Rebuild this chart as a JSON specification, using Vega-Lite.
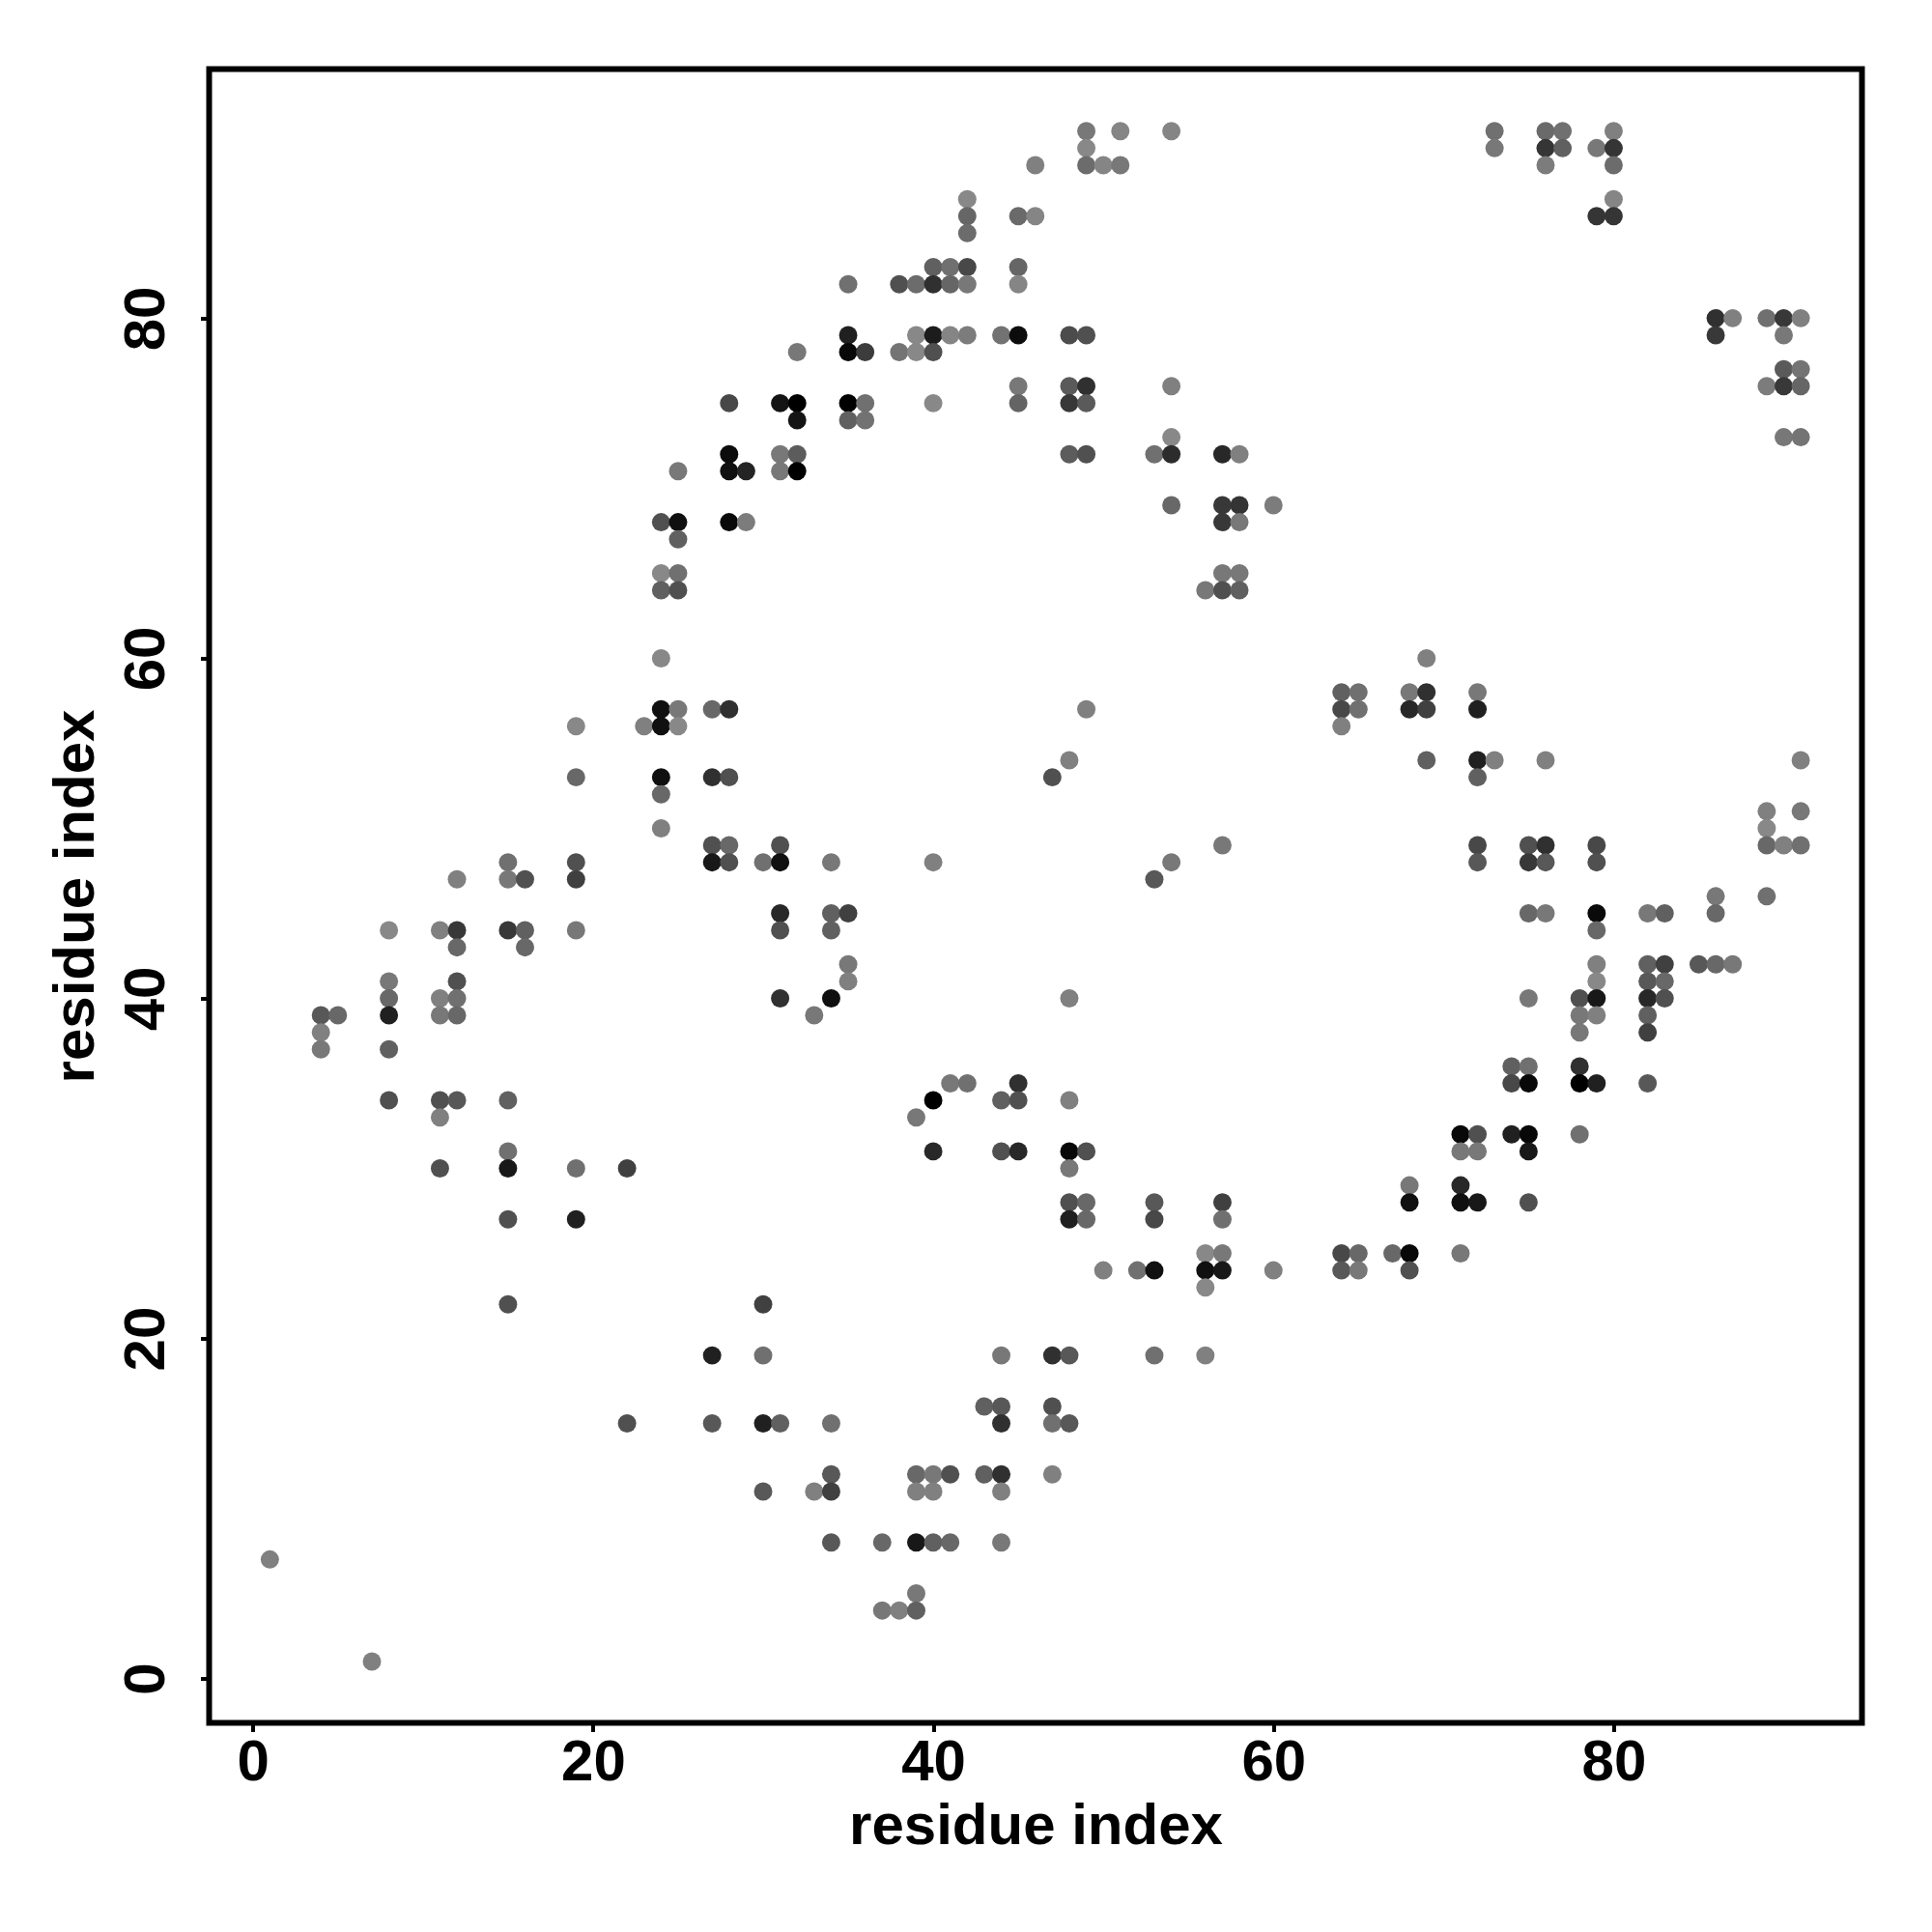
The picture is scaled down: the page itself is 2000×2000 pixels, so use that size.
{"$schema":"https://vega.github.io/schema/vega-lite/v6.json","autosize":{"type":"none"},"padding":{"left":216.5,"top":71.5,"right":72,"bottom":216},"width":1711,"height":1712,"background":"white","config":{"view":{"stroke":"black","strokeWidth":6,"fill":null}},
"data":{"values":[
{"x":49,"y":91,"g":120},{"x":51,"y":91,"g":133},{"x":54,"y":91,"g":133},{"x":73,"y":91,"g":112},{"x":76,"y":91,"g":106},{"x":77,"y":91,"g":112},{"x":80,"y":91,"g":128},
{"x":49,"y":90,"g":136},{"x":73,"y":90,"g":120},{"x":76,"y":90,"g":53},{"x":77,"y":90,"g":96},{"x":79,"y":90,"g":120},{"x":80,"y":90,"g":53},
{"x":46,"y":89,"g":128},{"x":49,"y":89,"g":108},{"x":50,"y":89,"g":133},{"x":51,"y":89,"g":120},{"x":76,"y":89,"g":124},{"x":80,"y":89,"g":108},
{"x":42,"y":87,"g":136},{"x":80,"y":87,"g":133},
{"x":42,"y":86,"g":102},{"x":45,"y":86,"g":106},{"x":46,"y":86,"g":133},{"x":79,"y":86,"g":53},{"x":80,"y":86,"g":53},
{"x":42,"y":85,"g":108},
{"x":40,"y":83,"g":96},{"x":41,"y":83,"g":112},{"x":42,"y":83,"g":72},{"x":45,"y":83,"g":102},
{"x":35,"y":82,"g":112},{"x":38,"y":82,"g":80},{"x":39,"y":82,"g":108},{"x":40,"y":82,"g":48},{"x":41,"y":82,"g":102},{"x":42,"y":82,"g":120},{"x":45,"y":82,"g":133},
{"x":86,"y":80,"g":48},{"x":87,"y":80,"g":128},{"x":89,"y":80,"g":112},{"x":90,"y":80,"g":56},{"x":91,"y":80,"g":128},
{"x":35,"y":79,"g":32},{"x":39,"y":79,"g":136},{"x":40,"y":79,"g":28},{"x":41,"y":79,"g":133},{"x":42,"y":79,"g":124},{"x":44,"y":79,"g":114},{"x":45,"y":79,"g":12},{"x":48,"y":79,"g":76},{"x":49,"y":79,"g":80},{"x":86,"y":79,"g":56},{"x":90,"y":79,"g":120},
{"x":32,"y":78,"g":120},{"x":35,"y":78,"g":8},{"x":36,"y":78,"g":60},{"x":38,"y":78,"g":116},{"x":39,"y":78,"g":136},{"x":40,"y":78,"g":80},
{"x":90,"y":77,"g":90},{"x":91,"y":77,"g":116},
{"x":45,"y":76,"g":120},{"x":48,"y":76,"g":90},{"x":49,"y":76,"g":48},{"x":54,"y":76,"g":128},{"x":89,"y":76,"g":124},{"x":90,"y":76,"g":56},{"x":91,"y":76,"g":102},
{"x":28,"y":75,"g":72},{"x":31,"y":75,"g":20},{"x":32,"y":75,"g":0},{"x":35,"y":75,"g":0},{"x":36,"y":75,"g":112},{"x":40,"y":75,"g":136},{"x":45,"y":75,"g":100},{"x":48,"y":75,"g":56},{"x":49,"y":75,"g":90},
{"x":32,"y":74,"g":20},{"x":35,"y":74,"g":96},{"x":36,"y":74,"g":114},
{"x":54,"y":73,"g":136},{"x":90,"y":73,"g":120},{"x":91,"y":73,"g":116},
{"x":28,"y":72,"g":12},{"x":31,"y":72,"g":120},{"x":32,"y":72,"g":92},{"x":48,"y":72,"g":92},{"x":49,"y":72,"g":80},{"x":53,"y":72,"g":112},{"x":54,"y":72,"g":44},{"x":57,"y":72,"g":40},{"x":58,"y":72,"g":128},
{"x":25,"y":71,"g":120},{"x":28,"y":71,"g":16},{"x":29,"y":71,"g":36},{"x":31,"y":71,"g":120},{"x":32,"y":71,"g":0},
{"x":54,"y":69,"g":104},{"x":57,"y":69,"g":56},{"x":58,"y":69,"g":52},{"x":60,"y":69,"g":124},
{"x":24,"y":68,"g":80},{"x":25,"y":68,"g":16},{"x":28,"y":68,"g":10},{"x":29,"y":68,"g":124},{"x":57,"y":68,"g":56},{"x":58,"y":68,"g":120},
{"x":25,"y":67,"g":96},
{"x":24,"y":65,"g":136},{"x":25,"y":65,"g":112},{"x":57,"y":65,"g":120},{"x":58,"y":65,"g":120},
{"x":24,"y":64,"g":96},{"x":25,"y":64,"g":80},{"x":56,"y":64,"g":120},{"x":57,"y":64,"g":80},{"x":58,"y":64,"g":96},
{"x":24,"y":60,"g":136},{"x":69,"y":60,"g":128},
{"x":64,"y":58,"g":96},{"x":65,"y":58,"g":112},{"x":68,"y":58,"g":120},{"x":69,"y":58,"g":48},{"x":72,"y":58,"g":120},
{"x":24,"y":57,"g":16},{"x":25,"y":57,"g":120},{"x":27,"y":57,"g":104},{"x":28,"y":57,"g":48},{"x":49,"y":57,"g":128},{"x":64,"y":57,"g":72},{"x":65,"y":57,"g":112},{"x":68,"y":57,"g":40},{"x":69,"y":57,"g":64},{"x":72,"y":57,"g":32},
{"x":19,"y":56,"g":136},{"x":23,"y":56,"g":128},{"x":24,"y":56,"g":16},{"x":25,"y":56,"g":136},{"x":64,"y":56,"g":128},
{"x":48,"y":54,"g":128},{"x":69,"y":54,"g":96},{"x":72,"y":54,"g":32},{"x":73,"y":54,"g":128},{"x":76,"y":54,"g":128},{"x":91,"y":54,"g":128},
{"x":19,"y":53,"g":104},{"x":24,"y":53,"g":16},{"x":27,"y":53,"g":48},{"x":28,"y":53,"g":80},{"x":47,"y":53,"g":80},{"x":72,"y":53,"g":96},
{"x":24,"y":52,"g":104},
{"x":89,"y":51,"g":128},{"x":91,"y":51,"g":120},
{"x":24,"y":50,"g":128},{"x":89,"y":50,"g":136},
{"x":27,"y":49,"g":80},{"x":28,"y":49,"g":104},{"x":31,"y":49,"g":80},{"x":57,"y":49,"g":120},{"x":72,"y":49,"g":72},{"x":75,"y":49,"g":80},{"x":76,"y":49,"g":48},{"x":79,"y":49,"g":72},{"x":89,"y":49,"g":104},{"x":90,"y":49,"g":128},{"x":91,"y":49,"g":112},
{"x":15,"y":48,"g":112},{"x":19,"y":48,"g":80},{"x":27,"y":48,"g":24},{"x":28,"y":48,"g":80},{"x":30,"y":48,"g":112},{"x":31,"y":48,"g":16},{"x":34,"y":48,"g":120},{"x":40,"y":48,"g":128},{"x":54,"y":48,"g":120},{"x":72,"y":48,"g":88},{"x":75,"y":48,"g":56},{"x":76,"y":48,"g":88},{"x":79,"y":48,"g":80},
{"x":12,"y":47,"g":128},{"x":15,"y":47,"g":120},{"x":16,"y":47,"g":80},{"x":19,"y":47,"g":64},{"x":53,"y":47,"g":88},
{"x":86,"y":46,"g":120},{"x":89,"y":46,"g":112},
{"x":31,"y":45,"g":40},{"x":34,"y":45,"g":96},{"x":35,"y":45,"g":64},{"x":75,"y":45,"g":104},{"x":76,"y":45,"g":120},{"x":79,"y":45,"g":10},{"x":82,"y":45,"g":120},{"x":83,"y":45,"g":96},{"x":86,"y":45,"g":104},
{"x":8,"y":44,"g":136},{"x":11,"y":44,"g":128},{"x":12,"y":44,"g":56},{"x":15,"y":44,"g":56},{"x":16,"y":44,"g":96},{"x":19,"y":44,"g":120},{"x":31,"y":44,"g":80},{"x":34,"y":44,"g":96},{"x":79,"y":44,"g":104},
{"x":12,"y":43,"g":104},{"x":16,"y":43,"g":104},
{"x":35,"y":42,"g":120},{"x":79,"y":42,"g":128},{"x":82,"y":42,"g":96},{"x":83,"y":42,"g":64},{"x":85,"y":42,"g":88},{"x":86,"y":42,"g":104},{"x":87,"y":42,"g":120},
{"x":8,"y":41,"g":120},{"x":12,"y":41,"g":80},{"x":35,"y":41,"g":128},{"x":79,"y":41,"g":136},{"x":82,"y":41,"g":88},{"x":83,"y":41,"g":104},
{"x":8,"y":40,"g":104},{"x":11,"y":40,"g":128},{"x":12,"y":40,"g":112},{"x":31,"y":40,"g":48},{"x":34,"y":40,"g":16},{"x":48,"y":40,"g":128},{"x":75,"y":40,"g":120},{"x":78,"y":40,"g":80},{"x":79,"y":40,"g":24},{"x":82,"y":40,"g":40},{"x":83,"y":40,"g":80},
{"x":4,"y":39,"g":88},{"x":5,"y":39,"g":104},{"x":8,"y":39,"g":32},{"x":11,"y":39,"g":120},{"x":12,"y":39,"g":104},{"x":33,"y":39,"g":120},{"x":78,"y":39,"g":120},{"x":79,"y":39,"g":128},{"x":82,"y":39,"g":96},
{"x":4,"y":38,"g":128},{"x":78,"y":38,"g":120},{"x":82,"y":38,"g":64},
{"x":4,"y":37,"g":120},{"x":8,"y":37,"g":96},
{"x":74,"y":36,"g":96},{"x":75,"y":36,"g":112},{"x":78,"y":36,"g":48},
{"x":41,"y":35,"g":120},{"x":42,"y":35,"g":112},{"x":45,"y":35,"g":48},{"x":74,"y":35,"g":72},{"x":75,"y":35,"g":8},{"x":78,"y":35,"g":0},{"x":79,"y":35,"g":32},{"x":82,"y":35,"g":88},
{"x":8,"y":34,"g":80},{"x":11,"y":34,"g":80},{"x":12,"y":34,"g":88},{"x":15,"y":34,"g":96},{"x":40,"y":34,"g":0},{"x":44,"y":34,"g":96},{"x":45,"y":34,"g":80},{"x":48,"y":34,"g":128},
{"x":11,"y":33,"g":128},{"x":39,"y":33,"g":120},
{"x":71,"y":32,"g":8},{"x":72,"y":32,"g":80},{"x":74,"y":32,"g":32},{"x":75,"y":32,"g":8},{"x":78,"y":32,"g":112},
{"x":15,"y":31,"g":112},{"x":40,"y":31,"g":40},{"x":44,"y":31,"g":80},{"x":45,"y":31,"g":40},{"x":48,"y":31,"g":8},{"x":49,"y":31,"g":80},{"x":71,"y":31,"g":120},{"x":72,"y":31,"g":120},{"x":75,"y":31,"g":24},
{"x":11,"y":30,"g":80},{"x":15,"y":30,"g":24},{"x":19,"y":30,"g":112},{"x":22,"y":30,"g":64},{"x":48,"y":30,"g":120},
{"x":68,"y":29,"g":120},{"x":71,"y":29,"g":40},
{"x":48,"y":28,"g":80},{"x":49,"y":28,"g":104},{"x":53,"y":28,"g":88},{"x":57,"y":28,"g":64},{"x":68,"y":28,"g":16},{"x":71,"y":28,"g":16},{"x":72,"y":28,"g":24},{"x":75,"y":28,"g":80},
{"x":15,"y":27,"g":80},{"x":19,"y":27,"g":32},{"x":48,"y":27,"g":32},{"x":49,"y":27,"g":104},{"x":53,"y":27,"g":72},{"x":57,"y":27,"g":112},
{"x":56,"y":25,"g":136},{"x":57,"y":25,"g":120},{"x":64,"y":25,"g":72},{"x":65,"y":25,"g":104},{"x":67,"y":25,"g":104},{"x":68,"y":25,"g":8},{"x":71,"y":25,"g":120},
{"x":50,"y":24,"g":128},{"x":52,"y":24,"g":112},{"x":53,"y":24,"g":16},{"x":56,"y":24,"g":16},{"x":57,"y":24,"g":24},{"x":60,"y":24,"g":128},{"x":64,"y":24,"g":88},{"x":65,"y":24,"g":120},{"x":68,"y":24,"g":80},
{"x":56,"y":23,"g":136},
{"x":15,"y":22,"g":80},{"x":30,"y":22,"g":64},
{"x":27,"y":19,"g":32},{"x":30,"y":19,"g":112},{"x":44,"y":19,"g":120},{"x":47,"y":19,"g":48},{"x":48,"y":19,"g":88},{"x":53,"y":19,"g":112},{"x":56,"y":19,"g":128},
{"x":43,"y":16,"g":96},{"x":44,"y":16,"g":88},{"x":47,"y":16,"g":80},
{"x":22,"y":15,"g":80},{"x":27,"y":15,"g":88},{"x":30,"y":15,"g":32},{"x":31,"y":15,"g":96},{"x":34,"y":15,"g":112},{"x":44,"y":15,"g":48},{"x":47,"y":15,"g":112},{"x":48,"y":15,"g":88},
{"x":34,"y":12,"g":88},{"x":39,"y":12,"g":104},{"x":40,"y":12,"g":120},{"x":41,"y":12,"g":80},{"x":43,"y":12,"g":96},{"x":44,"y":12,"g":48},{"x":47,"y":12,"g":128},
{"x":30,"y":11,"g":88},{"x":33,"y":11,"g":128},{"x":34,"y":11,"g":64},{"x":39,"y":11,"g":128},{"x":40,"y":11,"g":128},{"x":44,"y":11,"g":128},
{"x":34,"y":8,"g":88},{"x":37,"y":8,"g":104},{"x":39,"y":8,"g":24},{"x":40,"y":8,"g":96},{"x":41,"y":8,"g":104},{"x":44,"y":8,"g":120},
{"x":1,"y":7,"g":128},{"x":39,"y":5,"g":120},
{"x":37,"y":4,"g":120},{"x":38,"y":4,"g":128},{"x":39,"y":4,"g":96},
{"x":7,"y":1,"g":128}
]},
"mark":{"type":"circle","size":360,"opacity":1},
"encoding":{
"x":{"field":"x","type":"quantitative","scale":{"domain":[-2.57,94.6],"nice":false,"zero":false},"axis":{"values":[0,20,40,60,80],"grid":false,"domain":false,"ticks":true,"tickSize":9,"tickWidth":4,"tickColor":"black","labelFont":"Liberation Sans","labelFontWeight":"bold","labelFontSize":60,"labelColor":"black","labelPadding":3,"title":"residue index","titleFont":"Liberation Sans","titleFontWeight":"bold","titleFontSize":60,"titleColor":"black","titlePadding":7}},
"y":{"field":"y","type":"quantitative","scale":{"domain":[-2.61,94.65],"nice":false,"zero":false},"axis":{"values":[0,20,40,60,80],"grid":false,"domain":false,"ticks":true,"tickSize":9,"tickWidth":4,"tickColor":"black","labelFont":"Liberation Sans","labelFontWeight":"bold","labelFontSize":60,"labelColor":"black","labelAngle":270,"labelAlign":"center","labelBaseline":"bottom","labelPadding":25,"title":"residue index","titleFont":"Liberation Sans","titleFontWeight":"bold","titleFontSize":60,"titleColor":"black","titlePadding":12}},
"color":{"field":"g","type":"quantitative","scale":{"domain":[0,255],"range":["#000000","#ffffff"],"interpolate":"rgb"},"legend":null}
}}
